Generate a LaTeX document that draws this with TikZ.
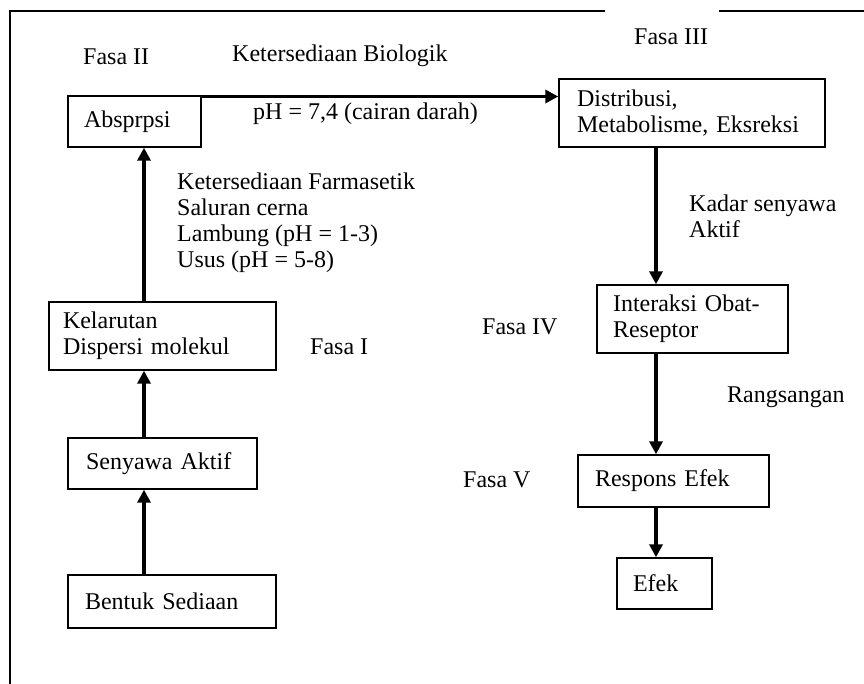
\documentclass[tikz,border=0pt]{standalone}
\usepackage{fontspec}
\setmainfont{Liberation Serif}
\usetikzlibrary{arrows.meta}
\begin{document}
\begin{tikzpicture}[x=1pt,y=-1pt,
  every node/.style={font=\fontsize{24}{26}\selectfont},
  box/.style={draw, line width=1.4pt, align=left, inner ysep=0pt, inner xsep=16pt, anchor=center},
  lbl/.style={inner sep=0pt, anchor=west, align=left},
  arr/.style={line width=3.5pt, -{Triangle[length=13pt,width=13pt]}},
  frame/.style={line width=1.4pt}]
\useasboundingbox (0,0) rectangle (864,684);
% frame
\coordinate (f1) at (10,11);
\coordinate (f2) at (605,11);
\coordinate (f3) at (719,11);
\coordinate (f4) at (864,11);
\coordinate (f5) at (10,684);
\draw[frame] (f5) -- (f1) -- (f2);
\draw[frame] (f3) -- (f4);
% boxes
\node[box, text width=133pt-32pt, minimum height=51pt] (abs) at (134.5,121.5) {Absprpsi};
\node[box, text width=266pt-36pt, inner xsep=18pt, minimum height=68pt] (dist) at (692,113) {Distribusi,\\Metabolisme, Eksreksi};
\node[box, text width=227pt-28pt, inner xsep=14pt, minimum height=68pt] (kel) at (162.5,336) {Kelarutan\\Dispersi molekul};
\node[box, text width=189pt-36pt, inner xsep=18pt, minimum height=51pt] (sen) at (162.5,463.5) {Senyawa Aktif};
\node[box, text width=208pt-34pt, inner xsep=17pt, minimum height=53pt] (ben) at (172,601.5) {Bentuk Sediaan};
\node[box, text width=191pt-32pt, minimum height=68pt] (int) at (692.5,319) {Interaksi Obat-\\Reseptor};
\node[box, text width=191pt-34pt, inner xsep=17pt, minimum height=52pt] (res) at (673.5,481) {Respons Efek};
\node[box, text width=95pt-32pt, minimum height=51pt] (efk) at (664.5,583.5) {Efek};
% arrow columns
\coordinate (xl) at (144,0);
\coordinate (xr) at (656,0);
\draw[arr] (ben.north -| xl) -- (sen.south -| xl);
\draw[arr] (sen.north -| xl) -- (kel.south -| xl);
\draw[arr] (kel.north -| xl) -- (abs.south -| xl);
\draw[arr] ([yshift=-1.2pt]abs.north east) -- ([yshift=-1.2pt]abs.north east -| dist.west);
\draw[arr] (dist.south -| xr) -- (int.north -| xr);
\draw[arr] (int.south -| xr) -- (res.north -| xr);
\draw[arr] (res.south -| xr) -- (efk.north -| xr);
% labels
\node[lbl] (l1) at (83,57) {Fasa II};
\node[lbl] (l2) at (232,56) {Ketersediaan Biologik};
\node[lbl] (l3) at (634,37) {Fasa III};
\node[lbl] (l4) at (253,114) {pH = 7,4 (cairan darah)};
\node[lbl] (l5) at (177,223) {Ketersediaan Farmasetik\\Saluran cerna\\Lambung (pH = 1-3)\\Usus (pH = 5-8)};
\node[lbl] (l6) at (689,216.5) {Kadar senyawa\\Aktif};
\node[lbl] (l7) at (310,347) {Fasa I};
\node[lbl] (l8) at (482,327) {Fasa IV};
\node[lbl] (l9) at (727,397) {Rangsangan};
\node[lbl] (l10) at (463,480) {Fasa V};
\end{tikzpicture}
\end{document}
